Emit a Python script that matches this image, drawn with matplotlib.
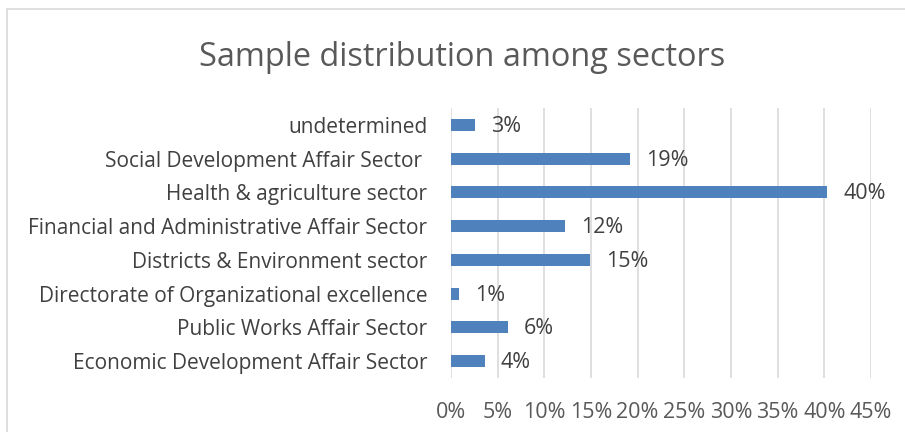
import matplotlib
matplotlib.use("Agg")
import matplotlib.pyplot as plt
from matplotlib.patches import Rectangle

categories = [
    "Economic Development Affair Sector",
    "Public Works Affair Sector",
    "Directorate of Organizational excellence",
    "Districts & Environment sector",
    "Financial and Administrative Affair Sector",
    "Health & agriculture sector",
    "Social Development Affair Sector ",
    "undetermined",
]
values = [3.6, 6.1, 0.9, 14.9, 12.2, 40.3, 19.2, 2.6]
xticks = [0, 5, 10, 15, 20, 25, 30, 35, 40, 45]
title = "Sample distribution among sectors"

plt.rcParams['font.family'] = ['Open Sans', 'DejaVu Sans']

W, H = 905, 432
fig = plt.figure(figsize=(W / 100, H / 100), dpi=100)
fig.patch.set_facecolor("white")

# chart border
fig.add_artist(Rectangle((7 / W, -0.1), 1.2, 1 - 9.5 / H + 0.1, transform=fig.transFigure,
                         fill=False, edgecolor="#d9d9d9", linewidth=1.2))

ax = fig.add_axes([451 / W, 1 - 378 / H, 420 / W, 270 / H])
ypos = list(range(len(categories)))
ax.barh(ypos, values, height=0.36, color="#4f81bd", zorder=3)
for y, v in zip(ypos, values):
    ax.annotate(f"{round(v):d}%", (v, y), xytext=(11.5, -1), textcoords="offset points",
                va="center", ha="left", fontsize=15.5, color="#404040")

ax.set_xlim(0, 45)
ax.set_ylim(-0.5, len(categories) - 0.5)
ax.set_xticks(xticks)
ax.set_xticklabels([f"{t}%" for t in xticks])
ax.set_yticks(ypos)
ax.set_yticklabels(categories)
ax.tick_params(axis="x", length=0, pad=17, labelsize=15.5, labelcolor="#595959")
ax.tick_params(axis="y", length=0, pad=17, labelsize=15, labelcolor="#404040")
ax.grid(axis="x", color="#d9d9d9", linewidth=1.2, zorder=0)
for s in ax.spines.values():
    s.set_visible(False)

fig.text(462 / W, 1 - 57 / H, title, ha="center", va="center", fontsize=23.4, color="#595959")

fig.savefig("out.png", dpi=100, facecolor="white")
